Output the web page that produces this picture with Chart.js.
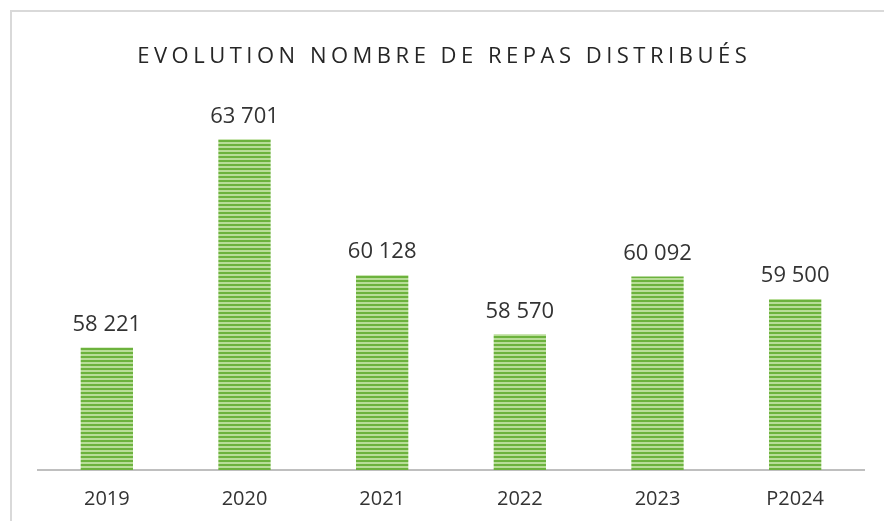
<!DOCTYPE html>
<html>
<head>
<meta charset="utf-8">
<script src="https://cdn.jsdelivr.net/npm/chart.js@4"></script>
<style>
body{margin:0;background:#fff;overflow:hidden;}
#wrap{position:relative;width:884px;height:521px;}
#frame{position:absolute;left:10px;top:10px;width:900px;height:600px;border:2px solid #d9d9d9;box-sizing:border-box;}
canvas{position:absolute;left:0;top:0;}
</style>
</head>
<body>
<div id="wrap">
<div id="frame"></div>
<canvas id="c" width="884" height="521"></canvas>
</div>
<script>
// data
const titleText = "EVOLUTION NOMBRE DE REPAS DISTRIBUÉS";
const years = ["2019","2020","2021","2022","2023","P2024"];
const repas = [58221,63701,60128,58570,60092,59500];

function formatNb(n){
return String(n).replace(/\B(?=(\d{3})+(?!\d))/g," ");
}

// stripes for the bars
function makeStripes(){
let p = document.createElement("canvas");
p.width = 4; p.height = 4;
let g = p.getContext("2d");
g.fillStyle = "#6cb23d";
g.fillRect(0,0,4,2);
g.fillStyle = "#b8dd98";
g.fillRect(0,2,4,2);
return document.getElementById("c").getContext("2d").createPattern(p,"repeat");
}

const txtColor = "#333333";

const titlePlugin = {
id:"titre",
afterDraw:function(chart){
let ctx = chart.ctx;
ctx.save();
ctx.font = "22px 'Open Sans'";
ctx.letterSpacing = "4.5px";
ctx.fillStyle = "#262626";
ctx.textBaseline = "middle";
let w = ctx.measureText(titleText).width - 4.5;
ctx.fillText(titleText, 442 - w/2, 57);
ctx.restore();
}
};

const labelPlugin = {
id:"etiquettes",
afterDatasetsDraw:function(chart){
let ctx = chart.ctx;
let meta = chart.getDatasetMeta(0);
ctx.save();
ctx.font = "22px 'Open Sans'";
ctx.fillStyle = txtColor;
ctx.textAlign = "center";
ctx.textBaseline = "middle";
meta.data.forEach(function(bar,i){
ctx.fillText(formatNb(repas[i]), bar.x, bar.y - 23);
});
ctx.restore();
}
};

new Chart(document.getElementById("c"),{
type:"bar",
data:{
labels:years,
datasets:[{
data:repas,
backgroundColor:makeStripes(),
borderWidth:0,
barPercentage:0.38,
categoryPercentage:1
}]
},
options:{
responsive:false,
animation:false,
layout:{padding:{left:38,right:20,top:90,bottom:1}},
plugins:{
legend:{display:false},
title:{display:false},
tooltip:{enabled:false}
},
scales:{
x:{
grid:{display:false},
border:{color:"#bfbfbf",width:2},
ticks:{color:txtColor,font:{family:"'Open Sans'",size:20},padding:9}
},
y:{
display:false,
min:55000,
max:65000
}
}
},
plugins:[titlePlugin,labelPlugin]
});
</script>
</body>
</html>
